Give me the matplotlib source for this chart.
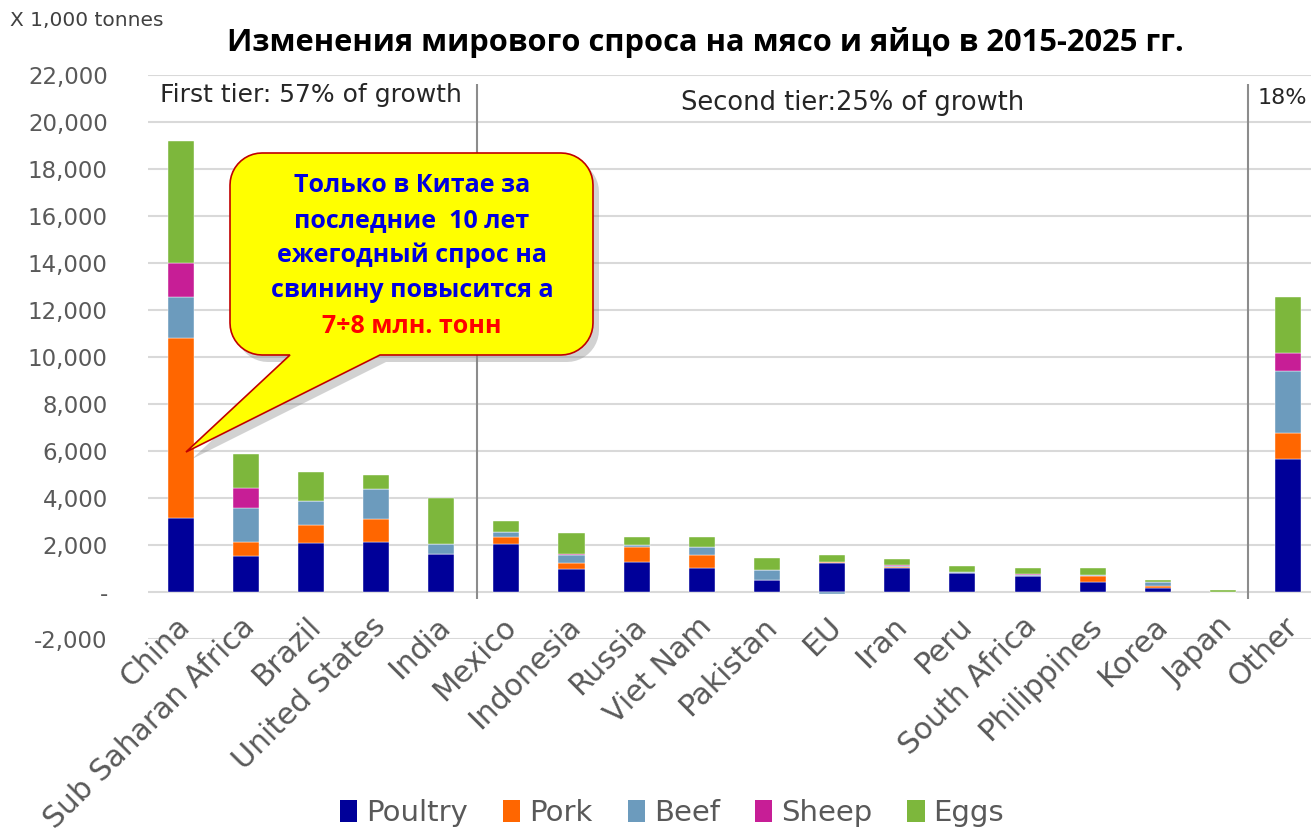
import numpy as np
import matplotlib.pyplot as plt
from matplotlib.patches import Polygon
from matplotlib.patches import Patch

# data (x 1,000 tonnes)
countries = ['China', 'Sub Saharan Africa', 'Brazil', 'United States', 'India',
             'Mexico', 'Indonesia', 'Russia', 'Viet Nam', 'Pakistan', 'EU',
             'Iran', 'Peru', 'South Africa', 'Philippines', 'Korea', 'Japan',
             'Other']
poultry = [3160, 1530, 2070, 2110, 1600, 2040, 980, 1290, 1010, 510, 1220,
           1040, 790, 680, 410, 150, 0, 5650]
pork = [7640, 580, 780, 990, 30, 310, 240, 640, 580, 0, 60,
        30, 20, 0, 270, 120, 0, 1100]
beef = [1770, 1450, 1020, 1270, 410, 200, 340, 70, 320, 430, -100,
        40, 20, 50, 40, 140, 0, 2670]
sheep = [1420, 850, 0, 0, 0, 0, 70, 0, 0, 0, 0,
         40, 30, 40, 0, 0, 0, 740]
eggs = [5210, 1450, 1220, 610, 1980, 480, 890, 350, 420, 490, 310,
        240, 240, 240, 290, 100, 80, 2410]

series = [('Poultry', poultry, '#000099'),
          ('Pork', pork, '#FF6600'),
          ('Beef', beef, '#6C9BBD'),
          ('Sheep', sheep, '#C71E96'),
          ('Eggs', eggs, '#7DB73C')]

yticks = list(range(-2000, 22001, 2000))
ytick_labels = ['-2,000', '-'] + ['{:,}'.format(v) for v in yticks[2:]]

W, H = 1311, 832
fig = plt.figure(figsize=(W / 100, H / 100), dpi=100)
ax = fig.add_axes([148 / W, 1 - 639 / H, 1 - 148 / W, (639 - 75) / H])


def fx(x):
    return x / W


def fy(y):
    return 1 - y / H


x = np.arange(len(countries))
pos_bottom = np.zeros(len(countries))
neg_bottom = np.zeros(len(countries))
for name, vals, col in series:
    vals = np.array(vals, dtype=float)
    bottom = np.where(vals >= 0, pos_bottom, neg_bottom)
    ax.bar(x, vals, 0.4, bottom=bottom, color=col, edgecolor='white',
           linewidth=0.3, zorder=3, label=name)
    pos_bottom += np.clip(vals, 0, None)
    neg_bottom += np.clip(vals, None, 0)

ax.set_xlim(-0.5, 17.35)
ax.set_ylim(-2000, 22000)
ax.set_yticks(yticks)
ax.set_yticklabels(ytick_labels)
ax.tick_params(axis='y', length=0, pad=29, labelsize=16.5, labelcolor='#595959')
ax.set_xticks([])
ax.grid(axis='y', color='#D9D9D9', linewidth=1.5, zorder=0)
for s in ax.spines.values():
    s.set_visible(False)

# category labels
for i, c in enumerate(countries):
    ax.text(i - 0.08, -850, c, rotation=45, rotation_mode='anchor',
            ha='right', va='top', fontsize=21.5, color='#595959')

# tier separators
ax.vlines([4.55, 16.38], -300, 21600, color='#8C8C8C', linewidth=1.5, zorder=4)

fig.text(fx(160), fy(95), 'First tier: 57% of growth', fontsize=18,
         color='#262626', va='center', ha='left')
fig.text(fx(681), fy(103), 'Second tier:25% of growth', fontsize=18.5,
         color='#262626', va='center', ha='left')
fig.text(fx(1258), fy(98), '18%', fontsize=16, color='#262626',
         va='center', ha='left')

fig.text(fx(10), fy(20), 'X 1,000 tonnes', fontsize=14.5, color='#404040',
         va='center', ha='left')
fig.text(fx(705), fy(42), 'Изменения мирового спроса на мясо и яйцо в 2015-2025 гг.',
         fontsize=22.2, fontweight='bold', family='Open Sans', color='black',
         ha='center', va='center')

# callout bubble
x0, x1, y0, y1, r = 230, 593, 153, 355, 32
pts = []


def arc(cx, cy, a0, a1):
    for a in np.linspace(a0, a1, 12):
        pts.append((cx + r * np.cos(a), cy + r * np.sin(a)))


arc(x0 + r, y0 + r, np.pi, 1.5 * np.pi)
arc(x1 - r, y0 + r, 1.5 * np.pi, 2 * np.pi)
arc(x1 - r, y1 - r, 0, 0.5 * np.pi)
pts += [(380, y1), (186, 452), (290, y1)]
arc(x0 + r, y1 - r, 0.5 * np.pi, np.pi)
pts = np.array(pts)
shadow = Polygon([(fx(px + 6), fy(py + 7)) for px, py in pts], closed=True,
                 transform=fig.transFigure, facecolor='#7F7F7F', alpha=0.35,
                 edgecolor='none', zorder=5)
bubble = Polygon([(fx(px), fy(py)) for px, py in pts], closed=True,
                 transform=fig.transFigure, facecolor='#FFFF00',
                 edgecolor='#C00000', linewidth=1.2, zorder=6)
fig.patches.extend([shadow, bubble])

lines = ['Только в Китае за', 'последние  10 лет', 'ежегодный спрос на',
         'свинину повысится а', '7÷8 млн. тонн']
for k, t in enumerate(lines):
    col = '#FF0000' if k == 4 else '#0000E0'
    fig.text(fx(412), fy(185 + 35.3 * k), t, fontsize=18, fontweight='bold',
             family='Open Sans', color=col, ha='center', va='center', zorder=7)

# legend
handles = [Patch(facecolor=col, edgecolor='none') for _, _, col in series]
leg = fig.legend(handles, [n for n, _, _ in series], loc='center',
                 bbox_to_anchor=(fx(672), fy(813)), ncol=5, frameon=False,
                 fontsize=21, handlelength=0.6, handleheight=0.8,
                 handletextpad=0.3, columnspacing=1.2)
for t in leg.get_texts():
    t.set_color('#595959')

fig.savefig('out.png', dpi=100)
